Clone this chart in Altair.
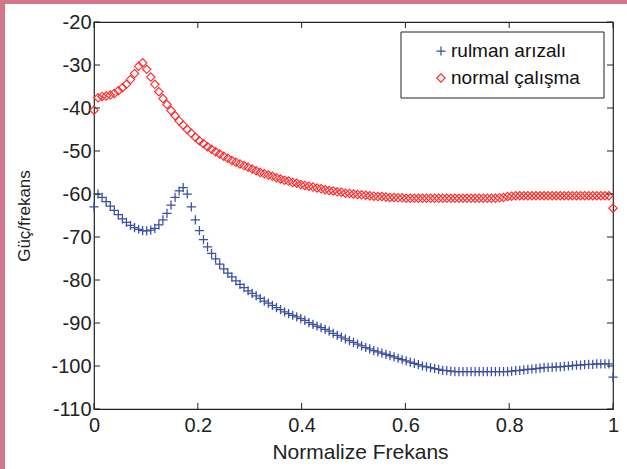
import altair as alt
import numpy as np
import pandas as pd

# 129 equally spaced frequency bins from 0 to 1
n_bins = 129
freq = np.linspace(0, 1, n_bins)

rulman_arizali = [
    -63.0, -60.0, -60.8, -61.8, -62.8, -63.8, -64.8, -65.8, -66.6, -67.3,
    -67.8, -68.2, -68.5, -68.6, -68.4, -68.0, -67.2, -66.0, -64.5, -62.6,
    -60.8, -59.3, -58.5, -60.0, -63.0, -66.0, -68.5, -70.6, -72.3, -73.8,
    -75.1, -76.3, -77.4, -78.4, -79.3, -80.2, -81.0, -81.8, -82.5, -83.1,
    -83.7, -84.3, -84.9, -85.4, -85.9, -86.4, -86.9, -87.4, -87.8, -88.2,
    -88.6, -89.0, -89.4, -89.9, -90.3, -90.7, -91.1, -91.5, -91.9, -92.4,
    -92.9, -93.3, -93.7, -94.1, -94.5, -94.9, -95.3, -95.7, -96.0, -96.4,
    -96.7, -97.0, -97.3, -97.6, -97.9, -98.2, -98.5, -98.8, -99.1, -99.4,
    -99.7, -100.0, -100.2, -100.4, -100.6, -100.8, -101.0, -101.1, -101.2, -101.3,
    -101.3, -101.3, -101.3, -101.3, -101.3, -101.3, -101.3, -101.3, -101.3, -101.3,
    -101.3, -101.3, -101.3, -101.2, -101.1, -101.0, -100.9, -100.8, -100.7, -100.6,
    -100.5, -100.4, -100.3, -100.3, -100.2, -100.2, -100.1, -100.0, -99.9, -99.8,
    -99.8, -99.7, -99.6, -99.6, -99.5, -99.5, -99.5, -99.5, -102.6,
]

normal_calisma = [
    -40.5, -37.6, -37.3, -37.2, -37.0, -36.6, -36.0, -35.3, -34.5, -33.4,
    -32.0, -30.3, -29.5, -31.0, -32.8, -34.5, -36.2, -37.8, -39.2, -40.6,
    -41.8, -43.0, -44.0, -45.0, -45.9, -46.8, -47.6, -48.3, -49.0, -49.6,
    -50.2, -50.7, -51.2, -51.7, -52.2, -52.6, -53.0, -53.4, -53.8, -54.2,
    -54.6, -55.0, -55.3, -55.6, -55.9, -56.2, -56.5, -56.8, -57.0, -57.3,
    -57.5, -57.8, -58.0, -58.2, -58.4, -58.6, -58.8, -59.0, -59.2, -59.3,
    -59.5, -59.6, -59.8, -59.9, -60.0, -60.1, -60.2, -60.3, -60.4, -60.5,
    -60.6, -60.6, -60.7, -60.8, -60.8, -60.9, -60.9, -61.0, -61.0, -61.0,
    -61.0, -61.0, -61.0, -61.0, -61.0, -61.0, -61.0, -61.0, -61.0, -61.0,
    -61.0, -61.0, -61.0, -61.0, -61.0, -61.0, -61.0, -61.0, -61.0, -61.0,
    -60.9, -60.8, -60.6, -60.5, -60.4, -60.4, -60.4, -60.4, -60.4, -60.4,
    -60.4, -60.4, -60.4, -60.4, -60.4, -60.4, -60.4, -60.4, -60.4, -60.4,
    -60.4, -60.4, -60.4, -60.4, -60.4, -60.4, -60.4, -60.4, -63.3,
]

x_ticks = [0, 0.2, 0.4, 0.6, 0.8, 1.0]
y_ticks = [-110, -100, -90, -80, -70, -60, -50, -40, -30, -20]

series_names = ["rulman arızalı", "normal çalışma"]
series_colors = ["#3b4fa3", "#ff2b2b"]

W, H = 519, 387
FONT = "Liberation Sans"
TXT = "#222222"

df_blue = pd.DataFrame({"f": freq, "p": rulman_arizali})
df_red = pd.DataFrame({"f": freq, "p": normal_calisma})

xscale = alt.Scale(domain=[0, 1], nice=False, zero=False)
yscale = alt.Scale(domain=[-110, -20], nice=False, zero=False)

xaxis = alt.Axis(values=x_ticks, title="Normalize Frekans", grid=False,
                 ticks=False, domain=False, labelFontSize=20, labelPadding=6,
                 labelColor=TXT, titleFontSize=21, titleFont=FONT,
                 titleFontWeight="normal", titleColor=TXT, titlePadding=6,
                 titleX=266, titleAnchor="middle",
                 labelFont=FONT, labelFlush=False, labelExpr="'' + datum.value")
yaxis = alt.Axis(values=y_ticks, title="Güç/frekans", grid=False,
                 ticks=False, domain=False, labelFontSize=20, labelPadding=3,
                 labelColor=TXT, titleFontSize=17, titleFont=FONT,
                 titleFontWeight="normal", titleColor=TXT, titlePadding=17,
                 labelFont=FONT, labelFlush=False, labelExpr="'' + datum.value")

xenc = alt.X("f:Q", scale=xscale, axis=xaxis)
yenc = alt.Y("p:Q", scale=yscale, axis=yaxis)

plus_path = "M-1,0L1,0M0,-1L0,1"

red = alt.Chart(df_red).mark_point(
    shape="diamond", filled=False, size=70, strokeWidth=1.15,
    color=series_colors[1], opacity=1
).encode(x=xenc, y=yenc)

blue = alt.Chart(df_blue).mark_point(
    shape=plus_path, filled=False, size=85, strokeWidth=1.25,
    color=series_colors[0], opacity=1
).encode(x=xenc, y=yenc)

# inward ticks on all four sides
df_xt = pd.DataFrame({"f": x_ticks})
df_yt = pd.DataFrame({"p": y_ticks})
xt_bottom = alt.Chart(df_xt).mark_rule(color=TXT, strokeWidth=1).encode(
    x=xenc, y=alt.value(H), y2=alt.value(H - 6))
xt_top = alt.Chart(df_xt).mark_rule(color=TXT, strokeWidth=1).encode(
    x=xenc, y=alt.value(0), y2=alt.value(6))
yt_left = alt.Chart(df_yt).mark_rule(color=TXT, strokeWidth=1).encode(
    y=yenc, x=alt.value(0), x2=alt.value(6))
yt_right = alt.Chart(df_yt).mark_rule(color=TXT, strokeWidth=1).encode(
    y=yenc, x=alt.value(W), x2=alt.value(W - 6))

# legend box
one = pd.DataFrame({"a": [0]})
LX0, LX1, LY0, LY1 = 307, 510, 10, 76
leg_box = alt.Chart(one).mark_rect(fill="white", stroke=TXT, strokeWidth=1).encode(
    x=alt.value(LX0), x2=alt.value(LX1), y=alt.value(LY0), y2=alt.value(LY1))
leg_sym_blue = alt.Chart(one).mark_point(
    shape=plus_path, filled=False, size=85, strokeWidth=1.25, color=series_colors[0], opacity=1
).encode(x=alt.value(347), y=alt.value(29))
leg_sym_red = alt.Chart(one).mark_point(
    shape="diamond", filled=False, size=70, strokeWidth=1.15, color=series_colors[1], opacity=1
).encode(x=alt.value(347), y=alt.value(56))
leg_text1 = alt.Chart(one).mark_text(
    align="left", baseline="middle", fontSize=19, font=FONT, color="#111111",
    text=series_names[0]
).encode(x=alt.value(357), y=alt.value(29))
leg_text2 = alt.Chart(one).mark_text(
    align="left", baseline="middle", fontSize=19, font=FONT, color="#111111",
    text=series_names[1]
).encode(x=alt.value(357), y=alt.value(56))

# pink frame remnants (top and left edges of the figure)
pink = "#d3788c"
border_top = alt.Chart(one).mark_rect(color=pink).encode(
    x=alt.value(-94), x2=alt.value(W + 14), y=alt.value(-22), y2=alt.value(-18))
border_left = alt.Chart(one).mark_rect(color=pink).encode(
    x=alt.value(-94), x2=alt.value(-89), y=alt.value(-22), y2=alt.value(H + 60))

chart = alt.layer(
    red, blue,
    xt_bottom, xt_top, yt_left, yt_right,
    leg_box, leg_sym_blue, leg_sym_red, leg_text1, leg_text2,
    border_top, border_left,
).properties(
    width=W, height=H,
    autosize=alt.AutoSizeParams(type="none"),
    padding={"left": 94, "top": 22, "right": 14, "bottom": 60},
    background="white",
).configure_view(stroke=TXT, strokeWidth=1.2)

chart.save("out.html", embed_options={"renderer": "svg", "actions": False})
